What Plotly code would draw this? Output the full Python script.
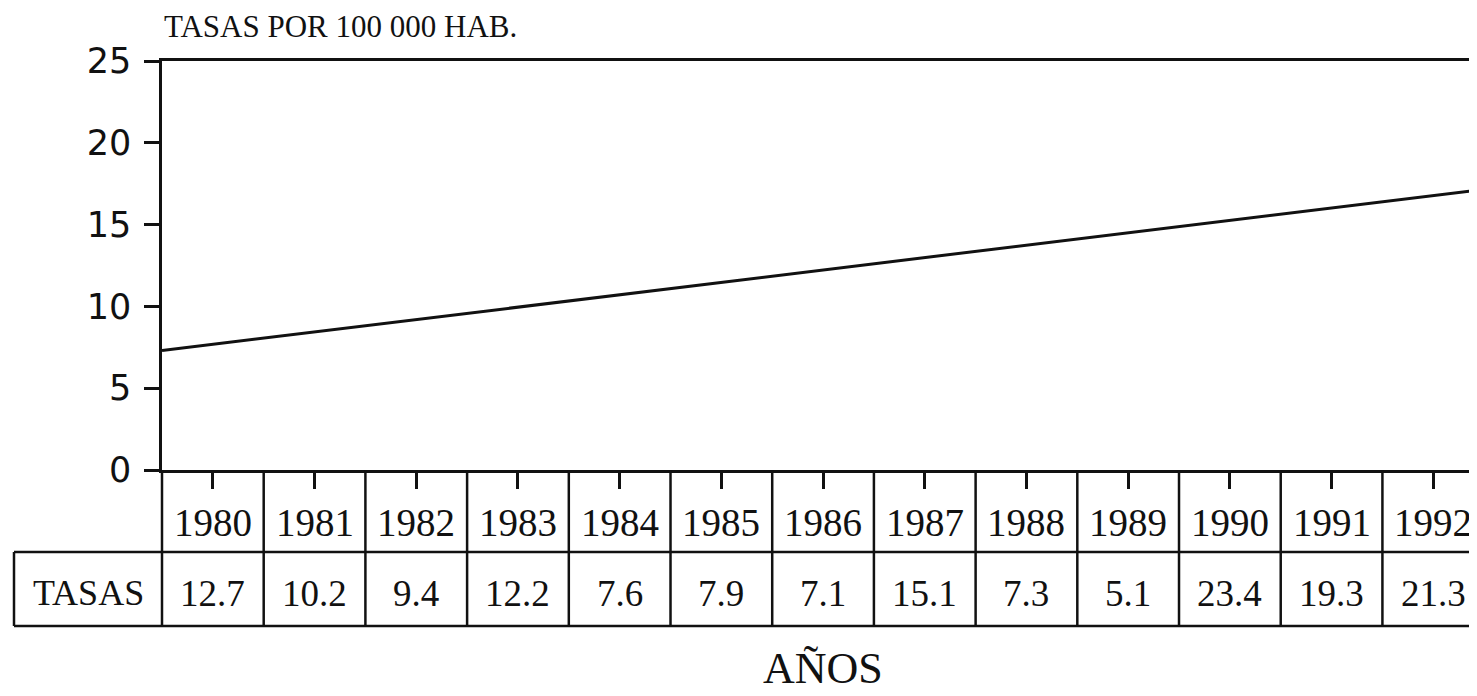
import plotly.graph_objects as go

years = [1980, 1981, 1982, 1983, 1984, 1985, 1986, 1987, 1988, 1989, 1990, 1991, 1992]
tasas = [12.7, 10.2, 9.4, 12.2, 7.6, 7.9, 7.1, 15.1, 7.3, 5.1, 23.4, 19.3, 21.3]
value_labels = ["12.7", "10.2", "9.4", "12.2", "7.6", "7.9", "7.1", "15.1", "7.3", "5.1", "23.4", "19.3", "21.3"]

# trend line (from the y-axis to the right border)
trend_years = [1979.5, 1992.43]
trend_values = [7.3, 17.1]

y_ticks = [0, 5, 10, 15, 20, 25]

OFF = 8  # page body margin
W, H = 1477 - OFF, 696 - OFF
L, T = 162 - OFF, 61 - OFF
PLOT_BOTTOM = 470 - OFF
R = 0
B = H - PLOT_BOTTOM
plot_h = H - T - B
plot_w = W - L - R

def py(pix):
    return 1 - (pix - OFF - T) / plot_h

def px(pix):
    return (pix - OFF - L) / plot_w

FONT = "Liberation Serif"
INK = "#111111"

fig = go.Figure()
fig.add_trace(go.Scatter(x=trend_years, y=trend_values, mode="lines",
                         line=dict(color=INK, width=3), showlegend=False,
                         hoverinfo="skip"))

shapes = []
row1_bot = py(552)
row2_bot = py(626)
x_left_tab = px(14)
for yy in (row1_bot, row2_bot):
    shapes.append(dict(type="line", xref="paper", yref="paper", x0=x_left_tab, x1=1.0,
                       y0=yy, y1=yy, line=dict(color=INK, width=2.5)))
shapes.append(dict(type="line", xref="paper", yref="paper", x0=x_left_tab, x1=x_left_tab,
                   y0=row1_bot, y1=row2_bot, line=dict(color=INK, width=2.5)))
shapes.append(dict(type="line", xref="paper", yref="paper", x0=0, x1=0,
                   y0=0, y1=row2_bot, line=dict(color=INK, width=2.5)))
for yr in years[:-1]:
    shapes.append(dict(type="line", xref="x", yref="paper", x0=yr + 0.5, x1=yr + 0.5,
                       y0=0, y1=row2_bot, line=dict(color=INK, width=2.5)))

annotations = []
for yr, lab in zip(years, value_labels):
    annotations.append(dict(x=yr, y=py(522), xref="x", yref="paper", text=str(yr),
                            showarrow=False, font=dict(family=FONT, size=39, color=INK),
                            xanchor="center", yanchor="middle"))
    annotations.append(dict(x=yr, y=py(593), xref="x", yref="paper", text=lab,
                            showarrow=False, font=dict(family=FONT, size=37, color=INK),
                            xanchor="center", yanchor="middle"))
annotations.append(dict(x=px(88), y=py(593), xref="paper", yref="paper", text="TASAS",
                        showarrow=False, font=dict(family=FONT, size=36, color=INK),
                        xanchor="center", yanchor="middle"))
annotations.append(dict(x=px(162), y=py(27), xref="paper", yref="paper",
                        text="TASAS POR 100 000 HAB.",
                        showarrow=False, font=dict(family=FONT, size=31, color=INK),
                        xanchor="left", yanchor="middle"))
annotations.append(dict(x=px(823), y=py(668), xref="paper", yref="paper",
                        text="AÑOS",
                        showarrow=False, font=dict(family=FONT, size=44, color=INK),
                        xanchor="center", yanchor="middle"))

fig.update_layout(
    width=W, height=H,
    margin=dict(l=L, r=R, t=T, b=B, pad=0),
    paper_bgcolor="white", plot_bgcolor="white",
    shapes=shapes, annotations=annotations,
    xaxis=dict(range=[1979.5, 1992.43], tickvals=years, showticklabels=False,
               ticks="outside", ticklen=16, tickwidth=2.5, tickcolor=INK,
               showline=True, linecolor=INK, linewidth=2.5, mirror=True,
               showgrid=False, zeroline=False, fixedrange=True),
    yaxis=dict(range=[0, 25], tickvals=y_ticks, ticks="outside", ticklen=15,
               tickwidth=2.5, tickcolor=INK, showline=True, linecolor=INK, linewidth=2.5,
               showgrid=False, zeroline=False, ticklabelstandoff=6,
               tickfont=dict(family="DejaVu Sans", size=35, color=INK)),
)

fig.write_html("out.html")
